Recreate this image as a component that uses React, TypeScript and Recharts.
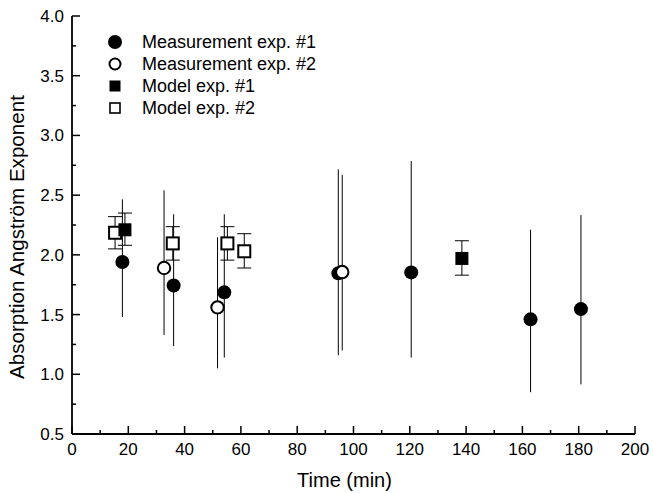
import React from 'react';
import { ScatterChart, Scatter, XAxis, YAxis, ErrorBar, Legend } from 'recharts';

// ---- data ----
const meas1Time = [17.9, 36.1, 54.1, 94.6, 120.5, 162.9, 180.8];
const meas1Value = [1.94, 1.744, 1.686, 1.845, 1.853, 1.46, 1.546];
const meas1ErrLow = [0.46, 0.508, 0.546, 0.685, 0.713, 0.61, 0.631];
const meas1ErrHigh = [0.525, 0.596, 0.654, 0.871, 0.932, 0.75, 0.787];

const meas2Time = [32.7, 51.7, 96.0];
const meas2Value = [1.89, 1.56, 1.856];
const meas2ErrLow = [0.56, 0.51, 0.656];
const meas2ErrHigh = [0.65, 0.587, 0.814];

const model1Time = [18.8, 138.5];
const model1Value = [2.21, 1.97];
const model1ErrLow = [0.13, 0.14];
const model1ErrHigh = [0.14, 0.148];

const model2Time = [15.3, 35.8, 55.2, 61.2];
const model2Value = [2.185, 2.096, 2.096, 2.03];
const model2ErrLow = [0.135, 0.14, 0.14, 0.14];
const model2ErrHigh = [0.135, 0.14, 0.14, 0.147];

const xTicks = [0, 10, 20, 30, 40, 50, 60, 70, 80, 90, 100, 110, 120, 130, 140, 150, 160, 170, 180, 190, 200];
const xLabelStep = 20;
const yTicks = [0.5, 0.75, 1.0, 1.25, 1.5, 1.75, 2.0, 2.25, 2.5, 2.75, 3.0, 3.25, 3.5, 3.75, 4.0];

const seriesNames = ['Measurement exp. #1', 'Measurement exp. #2', 'Model exp. #1', 'Model exp. #2'];

const build = (t: number[], v: number[], lo: number[], hi: number[]) =>
  t.map((x, i) => ({ x, y: v[i], err: [lo[i], hi[i]] }));

const meas1 = build(meas1Time, meas1Value, meas1ErrLow, meas1ErrHigh);
const meas2 = build(meas2Time, meas2Value, meas2ErrLow, meas2ErrHigh);
const model1 = build(model1Time, model1Value, model1ErrLow, model1ErrHigh);
const model2 = build(model2Time, model2Value, model2ErrLow, model2ErrHigh);

const FONT = 'Arial, "Liberation Sans", Helvetica, sans-serif';
const MARGIN = 20;
const MAJOR = 8;
const MINOR = 4;

const isMajorX = (v: number) => Math.abs(v % xLabelStep) < 1e-6;
const isMajorY = (v: number) => Math.abs((v * 2) % 1) < 1e-6;

const BottomTick = (p: any) => {
  const v = p.payload.value;
  const y0 = p.y - MARGIN;
  const len = isMajorX(v) ? MAJOR : MINOR;
  return (
    <g>
      <line x1={p.x} x2={p.x} y1={y0} y2={y0 - len} stroke="#000" strokeWidth={1.5} />
      {isMajorX(v) && (
        <text x={p.x} y={y0 + 21} textAnchor="middle" fontSize={17} fontFamily={FONT} fill="#000">
          {v}
        </text>
      )}
    </g>
  );
};

const TopTick = (p: any) => {
  const v = p.payload.value;
  const y0 = p.y + MARGIN;
  const len = isMajorX(v) ? MAJOR : MINOR;
  return <line x1={p.x} x2={p.x} y1={y0} y2={y0 + len} stroke="#000" strokeWidth={1.5} />;
};

const LeftTick = (p: any) => {
  const v = p.payload.value;
  const x0 = p.x + MARGIN;
  const len = isMajorY(v) ? MAJOR : MINOR;
  return (
    <g>
      <line x1={x0} x2={x0 + len} y1={p.y} y2={p.y} stroke="#000" strokeWidth={1.5} />
      {isMajorY(v) && (
        <text x={x0 - 8} y={p.y + 6} textAnchor="end" fontSize={17} fontFamily={FONT} fill="#000">
          {v.toFixed(1)}
        </text>
      )}
    </g>
  );
};

const RightTick = (p: any) => {
  const v = p.payload.value;
  const x0 = p.x - MARGIN;
  const len = isMajorY(v) ? MAJOR : MINOR;
  return <line x1={x0} x2={x0 - len} y1={p.y} y2={p.y} stroke="#000" strokeWidth={1.5} />;
};

const FilledCircle = (p: any) => <circle cx={p.cx} cy={p.cy} r={7} fill="#000" />;
const OpenCircle = (p: any) => <circle cx={p.cx} cy={p.cy} r={6.2} fill="#fff" stroke="#000" strokeWidth={2} />;
const FilledSquare = (p: any) => <rect x={p.cx - 6.5} y={p.cy - 6.5} width={13} height={13} fill="#000" />;
const OpenSquare = (p: any) => (
  <rect x={p.cx - 6} y={p.cy - 6} width={12} height={12} fill="#fff" stroke="#000" strokeWidth={2} />
);

const LegendContent = () => {
  const icons = [
    <circle cx={8} cy={8} r={7} fill="#000" />,
    <circle cx={8} cy={8} r={5.5} fill="#fff" stroke="#000" strokeWidth={2} />,
    <rect x={2.5} y={2.5} width={11} height={11} fill="#000" />,
    <rect x={3} y={3} width={10} height={10} fill="#fff" stroke="#000" strokeWidth={1.6} />,
  ];
  return (
    <div style={{ fontFamily: FONT, fontSize: 18, color: '#000' }}>
      {seriesNames.map((n, i) => (
        <div key={n} style={{ display: 'flex', alignItems: 'center', height: 22 }}>
          <svg width={16} height={16} style={{ marginRight: 19 }}>
            {icons[i]}
          </svg>
          <span>{n}</span>
        </div>
      ))}
    </div>
  );
};

export default function App() {
  return (
    <div style={{ position: 'absolute', left: 0, top: 0, width: 653, height: 493, background: '#fff' }}>
      <ScatterChart width={653} height={493} margin={{ top: 16, right: 18, left: 0, bottom: 0 }}>
        <XAxis
          xAxisId="b"
          type="number"
          dataKey="x"
          domain={[0, 200]}
          ticks={xTicks}
          interval={0}
          orientation="bottom"
          height={59}
          tickSize={0}
          tickMargin={MARGIN}
          tick={<BottomTick />}
          axisLine={{ stroke: '#000', strokeWidth: 1.8 }}
          allowDataOverflow
          label={{
            value: 'Time (min)',
            position: 'insideBottom',
            offset: 6,
            dx: -9,
            style: { fontSize: 20, fontFamily: FONT, fill: '#000' },
          }}
        />
        <XAxis
          xAxisId="t"
          type="number"
          dataKey="x"
          domain={[0, 200]}
          ticks={xTicks}
          interval={0}
          orientation="top"
          height={0}
          tickSize={0}
          tickMargin={MARGIN}
          tick={<TopTick />}
          axisLine={{ stroke: '#000', strokeWidth: 1.8 }}
          allowDataOverflow
        />
        <YAxis
          yAxisId="l"
          type="number"
          dataKey="y"
          domain={[0.5, 4.0]}
          ticks={yTicks}
          interval={0}
          orientation="left"
          width={72}
          tickSize={0}
          tickMargin={MARGIN}
          tick={<LeftTick />}
          axisLine={{ stroke: '#000', strokeWidth: 1.8 }}
          allowDataOverflow
          label={{
            value: 'Absorption Angström Exponent',
            angle: -90,
            position: 'insideLeft',
            offset: 17,
            dy: 154,
            style: { fontSize: 20.6, fontFamily: FONT, fill: '#000' },
          }}
        />
        <YAxis
          yAxisId="r"
          type="number"
          dataKey="y"
          domain={[0.5, 4.0]}
          ticks={yTicks}
          interval={0}
          orientation="right"
          width={0}
          tickSize={0}
          tickMargin={MARGIN}
          tick={<RightTick />}
          axisLine={{ stroke: '#000', strokeWidth: 1.8 }}
          allowDataOverflow
        />
        <Legend
          verticalAlign="middle"
          align="center"
          layout="vertical"
          wrapperStyle={{ position: 'absolute', left: 107, top: 31, width: 260 }}
          content={<LegendContent />}
        />
        <Scatter name={seriesNames[3]} data={model2} xAxisId="b" yAxisId="l" shape={<OpenSquare />} isAnimationActive={false}>
          <ErrorBar dataKey="err" direction="y" width={7} stroke="#000" strokeWidth={1} />
        </Scatter>
        <Scatter name={seriesNames[2]} data={model1} xAxisId="b" yAxisId="l" shape={<FilledSquare />} isAnimationActive={false}>
          <ErrorBar dataKey="err" direction="y" width={7} stroke="#000" strokeWidth={1} />
        </Scatter>
        <Scatter name={seriesNames[0]} data={meas1} xAxisId="b" yAxisId="l" shape={<FilledCircle />} isAnimationActive={false}>
          <ErrorBar dataKey="err" direction="y" width={0} stroke="#000" strokeWidth={1} />
        </Scatter>
        <Scatter name={seriesNames[1]} data={meas2} xAxisId="b" yAxisId="l" shape={<OpenCircle />} isAnimationActive={false}>
          <ErrorBar dataKey="err" direction="y" width={0} stroke="#000" strokeWidth={1} />
        </Scatter>
      </ScatterChart>
    </div>
  );
}
